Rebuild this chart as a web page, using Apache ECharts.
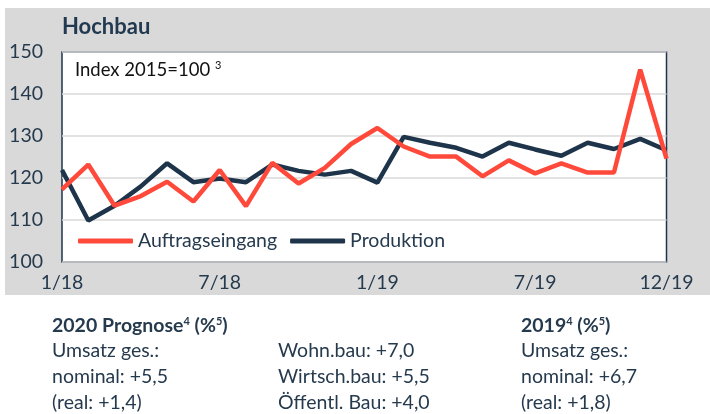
<!DOCTYPE html>
<html>
<head>
<meta charset="utf-8">
<style>
  html, body { margin: 0; padding: 0; background: #fff; }
  #main { width: 710px; height: 414px; }
</style>
<script src="https://cdn.jsdelivr.net/npm/echarts@6/dist/echarts.min.js"></script>
</head>
<body>
<div id="main"></div>
<script>
// Monate 1/18 .. 12/19
var months = [];
for (var y = 18; y <= 19; y++) {
    for (var m = 1; m <= 12; m++) months.push(m + '/' + y);
}
var shownLabels = ['1/18', '7/18', '1/19', '7/19', '12/19'];

var auftragseingang = [117.3, 123.2, 113.4, 115.7, 119.1, 114.4, 121.9, 113.3, 123.6, 118.7, 122.4, 128.1,
                       131.9, 127.5, 125.1, 125.1, 120.4, 124.2, 121.1, 123.5, 121.3, 121.3, 145.8, 124.6];
var produktion = [121.9, 109.9, 113.4, 118.0, 123.5, 119.0, 119.9, 119.0, 123.2, 121.7, 120.8, 121.7,
                  118.9, 129.8, 128.4, 127.2, 125.1, 128.4, 126.8, 125.3, 128.4, 126.9, 129.3, 126.6];

var yTicks = { min: 100, max: 150, step: 10 };

var FONT = 'Lato';
var FS = 19.5;
var NAVY = '#1e344a';
var RED = '#ff4a3b';
var TXT = '#263a4e';

// eine Textzeile unter dem Diagramm, y = Mitte der Zeile
function line(x, y, text, bold) {
    return {
        type: 'text', left: x, top: y - 12,
        style: {
            text: text, fill: TXT, font: (bold ? 'bold ' : '') + FS + 'px ' + FONT, lineHeight: 24,
            rich: {
                b: { fontSize: FS, fontWeight: 'bold', fill: TXT, fontFamily: FONT, lineHeight: 24 },
                sup: { fontSize: 11, fill: TXT, fontFamily: FONT, fontWeight: bold ? 'bold' : 'normal', lineHeight: 24, padding: [0, 0, 9, 0] }
            }
        }
    };
}

var myChart = echarts.init(document.getElementById('main'));

var option = {
    animation: false,
    backgroundColor: '#fff',
    textStyle: { fontFamily: FONT },
    graphic: [
        { type: 'rect', left: 5, top: 8, z: -10, shape: { width: 705, height: 287 }, style: { fill: '#d9d9d9' } },
        { type: 'text', left: 62, top: 16, style: { text: 'Hochbau', font: 'bold 22px ' + FONT, fill: '#223950' } },
        {
            type: 'text', left: 75, top: 60, z: 10,
            style: {
                text: 'Index 2015=100 {sup|3}', font: '18.5px ' + FONT, fill: '#111',
                rich: { sup: { fontSize: 11, fill: '#111', fontFamily: FONT, padding: [0, 0, 9, 0] } }
            }
        },
        line(52, 326, '{b|2020 Prognose}{sup|4}{b| (%}{sup|5}{b|)}', true),
        line(52, 351, 'Umsatz ges.:'),
        line(52, 377, 'nominal: +5,5'),
        line(52, 403, '(real: +1,4)'),
        line(278, 351, 'Wohn.bau: +7,0'),
        line(278, 377, 'Wirtsch.bau: +5,5'),
        line(278, 403, 'Öffentl. Bau: +4,0'),
        line(521, 326, '{b|2019}{sup|4}{b| (%}{sup|5}{b|)}', true),
        line(521, 351, 'Umsatz ges.:'),
        line(521, 377, 'nominal: +6,7'),
        line(521, 403, '(real: +1,8)')
    ],
    grid: {
        left: 62, top: 52, right: 43.5, bottom: 152,
        show: true, backgroundColor: '#fff', borderColor: NAVY, borderWidth: 1.5
    },
    legend: {
        left: 73, top: 226,
        itemWidth: 55, itemHeight: 5, itemGap: 13,
        icon: 'roundRect',
        textStyle: { fontSize: FS, color: TXT, fontFamily: FONT },
        data: ['Auftragseingang', 'Produktion']
    },
    xAxis: {
        type: 'category',
        data: months,
        boundaryGap: false,
        axisLine: { show: false },
        axisTick: { show: false },
        axisLabel: {
            margin: 11, fontSize: FS, color: TXT, fontFamily: FONT,
            interval: function (i, v) { return shownLabels.indexOf(v) >= 0; }
        }
    },
    yAxis: {
        type: 'value',
        min: yTicks.min, max: yTicks.max, interval: yTicks.step,
        axisLine: { show: false },
        axisTick: { show: false },
        axisLabel: { margin: 19, fontSize: FS, color: TXT, fontFamily: FONT },
        splitLine: { lineStyle: { color: '#d9d9d9', width: 1.5 } }
    },
    series: [
        {
            name: 'Auftragseingang', type: 'line', data: auftragseingang, z: 3,
            symbol: 'none', color: RED,
            lineStyle: { width: 4.5, color: RED }
        },
        {
            name: 'Produktion', type: 'line', data: produktion, z: 2,
            symbol: 'none', color: NAVY,
            lineStyle: { width: 4.5, color: NAVY }
        }
    ]
};

myChart.setOption(option);
</script>
</body>
</html>
